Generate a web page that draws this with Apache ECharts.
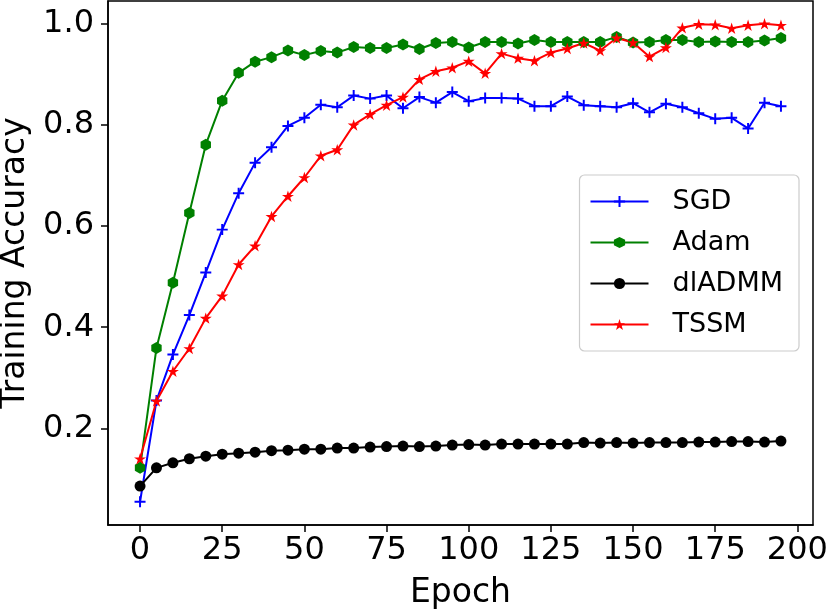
<!DOCTYPE html>
<html>
<head>
<meta charset="utf-8">
<script src="https://cdn.jsdelivr.net/npm/echarts@6/dist/echarts.min.js"></script>
<style>
html,body{margin:0;padding:0;background:#fff;}
#chart{width:830px;height:613px;}
</style>
</head>
<body>
<div id="chart"></div>
<script>
var epochs = [0,5,10,15,20,25,30,35,40,45,50,55,60,65,70,75,80,85,90,95,100,105,110,115,120,125,130,135,140,145,150,155,160,165,170,175,180,185,190,195];
var sgd = [0.055,0.255,0.346,0.424,0.508,0.593,0.665,0.725,0.756,0.798,0.814,0.840,0.835,0.858,0.852,0.858,0.833,0.855,0.844,0.865,0.847,0.853,0.853,0.852,0.837,0.837,0.856,0.839,0.837,0.835,0.843,0.825,0.842,0.835,0.823,0.812,0.814,0.793,0.844,0.837];
var adam = [0.122,0.359,0.488,0.626,0.761,0.848,0.903,0.925,0.934,0.947,0.938,0.946,0.943,0.954,0.952,0.952,0.959,0.950,0.962,0.964,0.953,0.964,0.964,0.961,0.968,0.964,0.964,0.964,0.964,0.974,0.963,0.964,0.968,0.968,0.964,0.965,0.964,0.964,0.967,0.972];
var dladmm = [0.086,0.122,0.132,0.140,0.145,0.149,0.151,0.153,0.156,0.157,0.159,0.159,0.161,0.161,0.163,0.164,0.165,0.164,0.165,0.167,0.168,0.167,0.169,0.169,0.169,0.169,0.169,0.172,0.171,0.172,0.171,0.172,0.172,0.172,0.173,0.173,0.174,0.174,0.173,0.175];
var tssm = [0.140,0.254,0.313,0.358,0.418,0.462,0.524,0.561,0.619,0.659,0.696,0.739,0.751,0.800,0.821,0.839,0.855,0.890,0.906,0.913,0.926,0.902,0.941,0.932,0.927,0.943,0.951,0.962,0.947,0.972,0.963,0.935,0.953,0.992,0.999,0.998,0.991,0.997,1.000,0.997];
var seriesNames = ['SGD','Adam','dlADMM','TSSM'];
var xTicks = [0,25,50,75,100,125,150,175,200];
var yTicks = [0.2,0.4,0.6,0.8,1.0];

function pairs(vals){ return epochs.map(function(e,i){ return [e, vals[i]]; }); }

var PLUS = 'path://M4.1,0H5.9V4.1H10V5.9H5.9V10H4.1V5.9H0V4.1H4.1Z';
var HEX = 'path://M5,0L9.33,2.5L9.33,7.5L5,10L0.67,7.5L0.67,2.5Z';
var STAR = 'path://M5,0L6.123,3.455L9.755,3.455L6.817,5.59L7.939,9.045L5,6.91L2.061,9.045L3.183,5.59L0.245,3.455L3.877,3.455Z';

var FONT = 'DejaVu Sans';
function mk(name, vals, color, symbol, size){
  return {
    name: name, type: 'line', data: pairs(vals),
    symbol: symbol, symbolSize: size, symbolKeepAspect: true,
    showAllSymbol: true,
    lineStyle: {color: color, width: 2},
    itemStyle: {color: color, borderWidth: 0, opacity: 1},
    emphasis: {disabled: true},
    animation: false
  };
}

var chart = echarts.init(document.getElementById('chart'), null, {renderer: 'canvas'});
chart.setOption({
  backgroundColor: '#fff',
  animation: false,
  grid: {left: 108, right: 17, top: 1, bottom: 88, show: true, borderColor: '#000', borderWidth: 1.5,
    backgroundColor: 'transparent', containLabel: false, outerBoundsMode: 'none'},
  legend: {
    data: seriesNames,
    orient: 'vertical', right: 31, top: 175,
    itemWidth: 58, itemHeight: 14, itemGap: 14,
    padding: [13, 16, 13, 10],
    borderColor: '#cccccc', borderWidth: 1.2, borderRadius: 5,
    backgroundColor: '#fff',
    textStyle: {fontFamily: FONT, fontSize: 27, color: '#000', padding: [0,0,0,19]}
  },
  xAxis: {
    type: 'value', min: -9.75, max: 204.75,
    name: 'Epoch', nameLocation: 'middle', nameGap: 52,
    nameTextStyle: {fontFamily: FONT, fontSize: 33, color: '#000'},
    splitLine: {show: false},
    axisLine: {show: true, onZero: false, lineStyle: {color: '#000', width: 1.5}},
    axisTick: {show: true, customValues: xTicks, length: 7, lineStyle: {color: '#000', width: 1.5}},
    axisLabel: {customValues: xTicks, fontFamily: FONT, fontSize: 32, color: '#000', margin: 10}
  },
  yAxis: {
    type: 'value', min: 0.009, max: 1.045,
    name: 'Training Accuracy', nameLocation: 'middle', nameGap: 73,
    nameTextStyle: {fontFamily: FONT, fontSize: 33, color: '#000'},
    splitLine: {show: false},
    axisLine: {show: true, onZero: false, lineStyle: {color: '#000', width: 1.5}},
    axisTick: {show: true, customValues: yTicks, length: 7, lineStyle: {color: '#000', width: 1.5}},
    axisLabel: {customValues: yTicks, fontFamily: FONT, fontSize: 32, color: '#000', margin: 14,
      formatter: function(v){ return v.toFixed(1); }}
  },
  series: [
    mk('SGD', sgd, '#0000ff', PLUS, 11),
    mk('Adam', adam, '#008000', HEX, 12),
    mk('dlADMM', dladmm, '#000000', 'circle', 11),
    mk('TSSM', tssm, '#ff0000', STAR, 12)
  ]
});
</script>
</body>
</html>
